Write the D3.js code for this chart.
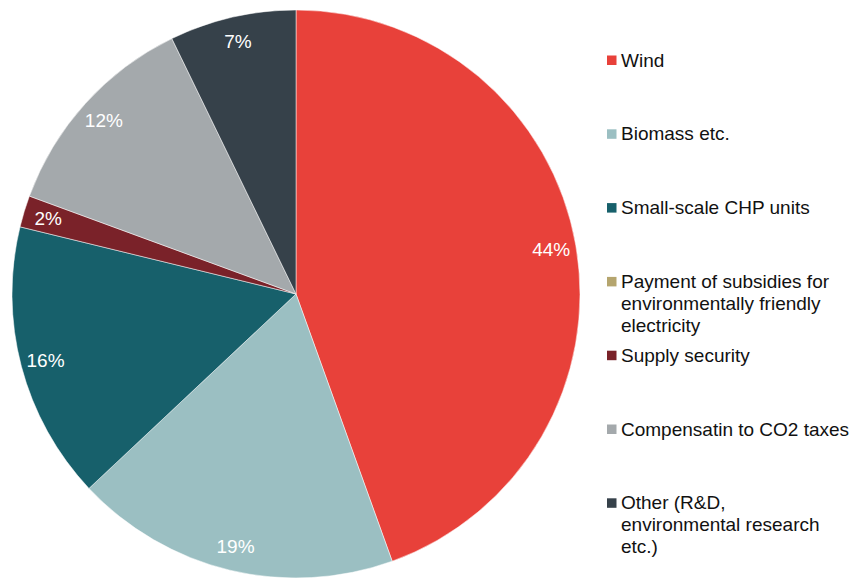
<!DOCTYPE html>
<html><head><meta charset="utf-8">
<script src="https://cdn.jsdelivr.net/npm/d3@7"></script>
<style>body{margin:0;background:#fff;} svg{display:block;font-family:"Liberation Sans",Arial,sans-serif;}</style>
</head><body><svg id="c" width="854" height="580"></svg>
<script>
const categories = ["Wind","Biomass etc.","Small-scale CHP units","Payment of subsidies for environmentally friendly electricity","Supply security","Compensatin to CO2 taxes","Other (R&D, environmental research etc.)"];
const legendLines = [["Wind"],["Biomass etc."],["Small-scale CHP units"],["Payment of subsidies for","environmentally friendly","electricity"],["Supply security"],["Compensatin to CO2 taxes"],["Other (R&D,","environmental research","etc.)"]];
const values = [44.5, 18.5, 15.8, 0, 1.8, 12.2, 7.2];
const pctLabels = ["44%","19%","16%","","2%","12%","7%"];
const colors = ["#E8413A","#9BBFC2","#17606B","#B5A56E","#7A2229","#A4A9AC","#36414A"];

const svg = d3.select("#c");
const cx = 296, cy = 294, r = 284;
const g = svg.append("g").attr("transform", `translate(${cx},${cy})`);
const pie = d3.pie().sort(null).value(d => d)(values);
const arc = d3.arc().innerRadius(0).outerRadius(r);
const labelArc = d3.arc().innerRadius(259).outerRadius(259);
g.selectAll("path").data(pie).join("path")
  .attr("d", arc).attr("fill", (d,i) => colors[i])
  .attr("stroke", "#fff").attr("stroke-width", d => d.value > 0 ? 0.5 : 0);
g.selectAll("text").data(pie).join("text")
  .attr("transform", d => `translate(${labelArc.centroid(d)})`)
  .attr("text-anchor", "middle").attr("dy", "0.35em")
  .attr("fill", "#fff").attr("font-size", 19)
  .text((d,i) => pctLabels[i]);

const lg = svg.append("g");
const legendY = d3.scaleLinear().domain([0, categories.length - 1]).range([60, 502.8]);
categories.forEach((c, i) => {
  const y = legendY(i);
  lg.append("rect").attr("x", 607).attr("y", y - 4.5).attr("width", 9.5).attr("height", 9.5).attr("fill", colors[i]);
  const t = lg.append("text").attr("x", 621).attr("y", y).attr("font-size", 19).attr("fill", "#111");
  legendLines[i].forEach((ln, j) => {
    t.append("tspan").attr("x", 621).attr("dy", j === 0 ? "0.35em" : 22).text(ln);
  });
});
</script></body></html>
